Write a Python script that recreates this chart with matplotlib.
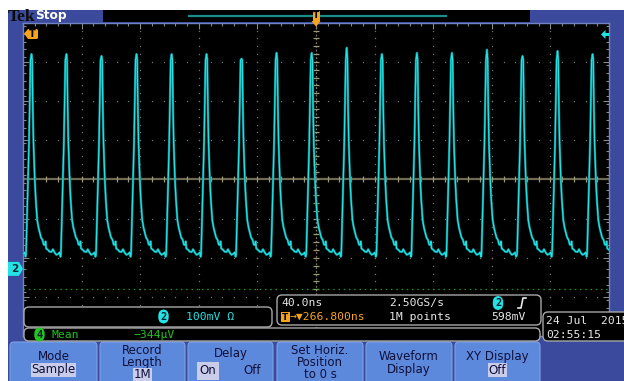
import numpy as np
import matplotlib
matplotlib.use('Agg')
import matplotlib.pyplot as plt
from matplotlib.patches import Rectangle, FancyBboxPatch, Polygon
from matplotlib.ticker import MultipleLocator

# scope settings (from the readouts)
ns_per_div = 40.0
mv_per_div = 100.0
centre_mv = 228.0        # ch2 value at screen centre (ground marker 2.28 div below)
trig_level_mv = 598.0
ch4_ground_mv = -51.0

# ch2 trace: pulse peaks and one pulse shape
peak_t_ns = [-218.1, -194.2, -170.4, -146.4, -122.5, -98.5, -74.7, -50.8, -26.9,
             -2.9, 21.0, 45.0, 68.9, 92.8, 116.7, 141.0, 164.9, 188.8]
peak_mv = [548, 548, 548, 543, 548, 548, 548, 536, 551,
           551, 564, 548, 551, 551, 559, 543, 556, 548]
pulse_dt_ns = [-3.75, -2.73, -1.71, -0.68, 0.0, 0.48, 0.89, 1.37, 2.25, 2.94, 3.89,
               4.8, 5.67, 6.5, 7.51, 8.3, 9.08, 9.6, 10.0, 11.4, 12.3, 13.65, 14.6,
               15.9, 17.0, 18.2, 19.2, 19.8]
pulse_mv = [36, 176, 321, 533, None, 533, 413, 321, 227, 176, 125,
            105, 92, 80, 74, 62, 61, 70, 52, 48, 44, 43, 50,
            41, 36, 38, 42, 31]

# texts
readout_tb = ['40.0ns', '2.50GS/s', '1M points', '598mV']
readout_delay = '\u2192\u25bc266.800ns'
ch2_scale = '100mV \u03a9'
meas_name = 'Mean'
meas_value = '\u2212344\u00b5V'
date_lines = ['24 Jul  2015', '02:55:15']
buttons = [['Mode', 'Sample'], ['Record', 'Length', '1M'], ['Delay', 'On     Off'],
           ['Set Horiz.', 'Position', 'to 0 s'], ['Waveform', 'Display'], ['XY Display', 'Off']]
button_x = [(10, 97), (100, 185), (188, 273), (277, 363), (366, 452), (455, 540)]

BLUE = '#3b4a9c'
BTN = '#5d89dc'
CYAN = '#22e4e4'
ORANGE = '#f5a21c'
GREEN = '#22c422'
WHITE = '#e8e8e8'
MONO = 'DejaVu Sans Mono'

W, H = 624, 381
fig = plt.figure(figsize=(W / 100, H / 100), dpi=100, facecolor='white')

def px_axes(z):
    a = fig.add_axes([0, 0, 1, 1], zorder=z)
    a.set_xlim(0, W)
    a.set_ylim(H, 0)
    a.axis('off')
    a.patch.set_alpha(0)
    return a

bg = px_axes(0)
ov = px_axes(2)

# frame and top bar
bg.add_patch(Rectangle((8, 10), W - 8, H - 10, color=BLUE, lw=0))
bg.add_patch(Rectangle((103, 10), 427, 12, color='black', lw=0))
bg.plot([189, 446], [15.5, 15.5], color='#1a8c8c', lw=1.6)
bg.text(7.5, 16.8, 'Tek', family='Liberation Serif', weight='bold', fontsize=12.5,
        color='#0c0c0c', va='center', ha='left')
bg.text(35, 16, 'Stop', fontsize=8.8, weight='bold', color='white', va='center', ha='left')

# soft buttons
BFS = 8.5
for (x0, x1), lines in zip(button_x, buttons):
    bg.add_patch(FancyBboxPatch((x0, 342), x1 - x0, 45, boxstyle='round,pad=0,rounding_size=4',
                                fc=BTN, ec='#7fa2e6', lw=0.8))
    xc = (x0 + x1) / 2
    if len(lines) == 2 and lines[0] != 'Delay':
        ys = [356.7, 370]
    elif lines[0] == 'Delay':
        ys = [353, 371]
    else:
        ys = [350, 362.5, 375]
    for i, (s, y) in enumerate(zip(lines, ys)):
        last = i == len(lines) - 1
        if last and s in ('Sample', '1M', 'Off'):
            bg.text(xc, y, s, fontsize=BFS, color='#10103a', ha='center', va='center',
                    bbox=dict(boxstyle='square,pad=0.06', fc='#c9cdea', ec='none'))
        elif s.startswith('On'):
            bg.text(x0 + 20, y, 'On', fontsize=BFS, color='#10103a', ha='center', va='center',
                    bbox=dict(boxstyle='square,pad=0.25', fc='#c9cdea', ec='none'))
            bg.text(x0 + 64, y, 'Off', fontsize=BFS, color='#10103a', ha='center', va='center')
        else:
            bg.text(xc, y, s, fontsize=BFS, color='#10103a', ha='center', va='center')

# graticule
x0p, y0p, x1p, y1p = 23, 22.7, 609, 336.3
sc = fig.add_axes([x0p / W, 1 - y1p / H, (x1p - x0p) / W, (y1p - y0p) / H], zorder=1)
sc.set_facecolor('black')
tmin, tmax = -5 * ns_per_div, 5 * ns_per_div
vmin, vmax = centre_mv - 4 * mv_per_div, centre_mv + 4 * mv_per_div
sc.set_xlim(tmin, tmax)
sc.set_ylim(vmin, vmax)
sc.set_xticks(np.arange(tmin, tmax + 1, ns_per_div))
sc.set_yticks(np.arange(vmin, vmax + 1, mv_per_div))
sc.xaxis.set_minor_locator(MultipleLocator(ns_per_div / 5))
sc.yaxis.set_minor_locator(MultipleLocator(mv_per_div / 5))
sc.tick_params(which='both', direction='in', top=True, right=True, labelbottom=False,
               labelleft=False, color='#8a8a8a', width=0.8)
sc.tick_params(which='major', length=4)
sc.tick_params(which='minor', length=2.5)
for s in sc.spines.values():
    s.set_color('#7283c4')
    s.set_linewidth(1)

dot = dict(ls='none', marker='s', ms=0.9, mew=0, color='#747474')
vdots = np.arange(vmin, vmax + 0.1, mv_per_div / 5)
tdots = np.arange(tmin, tmax + 0.1, ns_per_div / 5)
for k in range(1, 10):
    t = tmin + k * ns_per_div
    if k != 5:
        sc.plot(np.full_like(vdots, t), vdots, **dot)
for k in range(1, 8):
    v = vmin + k * mv_per_div
    if k != 4:
        sc.plot(tdots, np.full_like(tdots, v), **dot)

# centre lines
sc.axhline(centre_mv, color='#6f6b52', lw=1.6, zorder=2)
sc.plot(tdots, np.full_like(tdots, centre_mv), ls='none', marker='|', ms=4, mew=0.9,
        color='#9c977a', zorder=2)
sc.axvline(0, color='#7d7860', lw=0.9, ls=(0, (1.5, 1.5)), zorder=2)
sc.plot(np.zeros_like(vdots), vdots, ls='none', marker='_', ms=4, mew=0.9,
        color='#9c977a', zorder=2)
sc.axhline(ch4_ground_mv, color='#1c9a1c', lw=0.9, ls=(0, (1.2, 3)), zorder=2)

# ch2 trace
tt, vv = [], []
for pt, pv in zip(peak_t_ns, peak_mv):
    for dt, mv in zip(pulse_dt_ns, pulse_mv):
        tt.append(pt + dt)
        vv.append(pv if mv is None else mv)
sc.plot(tt, vv, color='#0b7f86', lw=1.7, zorder=3, solid_joinstyle='round')
sc.plot(tt, vv, color=CYAN, lw=0.85, zorder=4, solid_joinstyle='round')

# markers on the graticule
def v2py(v):
    return y0p + (vmax - v) / (vmax - vmin) * (y1p - y0p)

gy = v2py(0)
ov.add_patch(Polygon([(8, gy - 7), (19, gy - 7), (23, gy), (19, gy + 7), (8, gy + 7)],
                     closed=True, fc=CYAN, ec='none'))
ov.text(14.5, gy + 0.5, '2', fontsize=7.5, weight='bold', color='#0a2a3a', ha='center', va='center')
ty = v2py(trig_level_mv)
ov.add_patch(Polygon([(601, ty), (605.5, ty - 4.5), (605.5, ty - 1.5), (609, ty - 1.5),
                      (609, ty + 1.5), (605.5, ty + 1.5), (605.5, ty + 4.5)],
                     closed=True, fc=CYAN, ec='none'))
ov.add_patch(Polygon([(24, 33.5), (28, 29), (37, 29), (38, 30), (38, 38), (37, 39), (28, 39)],
                     closed=True, fc=ORANGE, ec='none'))
ov.text(32.5, 34, 'T', fontsize=7, weight='bold', color='black', ha='center', va='center')
ov.add_patch(Rectangle((312.5, 11), 7, 11, fc=ORANGE, ec='none'))
ov.add_patch(Polygon([(311.5, 21), (320.5, 21), (316, 26.5)], closed=True, fc=ORANGE, ec='none'))
ov.text(316, 16, 'T', fontsize=6.5, weight='bold', color='black', ha='center', va='center')

# readout boxes
def rbox(x, y, w, h):
    ov.add_patch(FancyBboxPatch((x, y), w, h, boxstyle='round,pad=0,rounding_size=5',
                                fc='black', ec='#a8a8a8', lw=1))

def badge(xc, yc, s, fc):
    ov.text(xc, yc, s, fontsize=7.5, weight='bold', color='#0a2030', ha='center', va='center',
            family=MONO, bbox=dict(boxstyle='round,pad=0.2,rounding_size=0.6', fc=fc, ec='none'))

rbox(24, 307, 248, 20)
badge(163.5, 316.5, '2', CYAN)
ov.text(186, 316.5, ch2_scale, fontsize=8.2, family=MONO, color=CYAN, va='center')

rbox(24, 328, 516, 13)
badge(39.5, 334.5, '4', GREEN)
ov.text(52, 334.5, meas_name, fontsize=8.2, family=MONO, color=GREEN, va='center')
ov.text(133, 334.5, meas_value, fontsize=8.2, family=MONO, color=GREEN, va='center')

rbox(277, 295, 264, 30)
ov.text(281, 303, readout_tb[0], fontsize=8.2, family=MONO, color=WHITE, va='center')
ov.text(389, 303, readout_tb[1], fontsize=8.2, family=MONO, color=WHITE, va='center')
ov.text(389, 317, readout_tb[2], fontsize=8.2, family=MONO, color=WHITE, va='center')
ov.text(491, 317, readout_tb[3], fontsize=8.2, family=MONO, color=WHITE, va='center')
badge(498, 303, '2', CYAN)
ov.plot([518, 521, 523, 526], [308, 308, 298, 298], color=WHITE, lw=1.2)
ov.add_patch(Rectangle((281, 311.5), 9, 10.5, fc=ORANGE, ec='none'))
ov.text(285.5, 317, 'T', fontsize=6.5, weight='bold', color='black', ha='center', va='center')
ov.text(290, 317, readout_delay, fontsize=8.2, family=MONO, color=ORANGE, va='center')

rbox(543, 312, 90, 29)
ov.text(546, 321, date_lines[0], fontsize=8.2, family=MONO, color=WHITE, va='center')
ov.text(546, 334.5, date_lines[1], fontsize=8.2, family=MONO, color=WHITE, va='center')

fig.savefig('out.png', dpi=100, facecolor='white')
